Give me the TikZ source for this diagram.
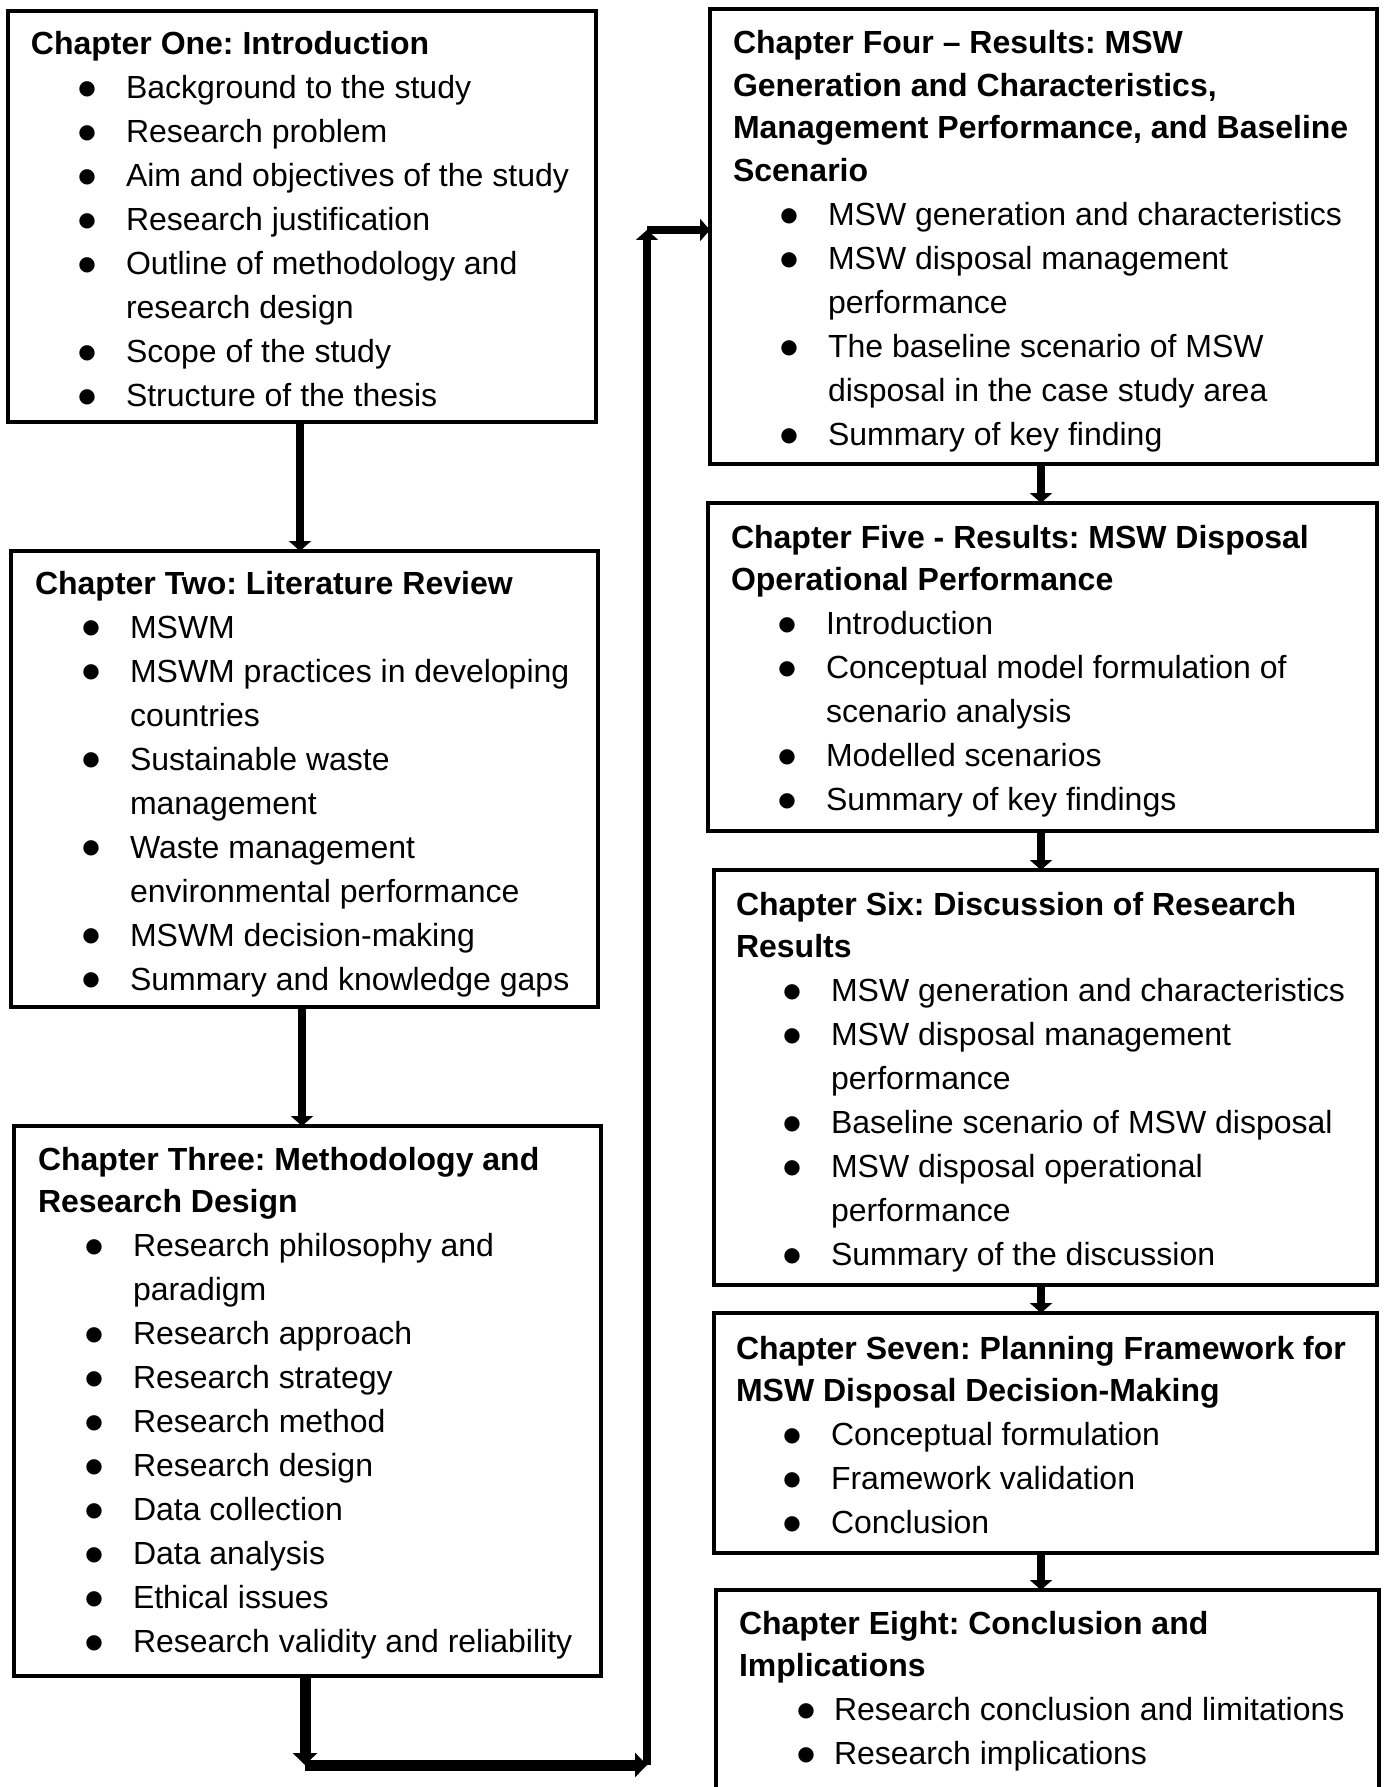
\documentclass[tikz,border=0pt]{standalone}
\usepackage{fontspec}
\setmainfont{Liberation Sans}
\newfontfamily\shapefont{DejaVu Sans}
\usetikzlibrary{arrows.meta}

% round bullet, centred about 4.5pt above the baseline
\newcommand\bigbullet{{\shapefont\fontsize{10}{12}\selectfont\raisebox{2.2pt}{●}}}
% chapter heading, then switch to the spacing of the bullet lines
\newcommand\chhead[1]{\noindent{\bfseries #1}\par\fontsize{16}{22}\selectfont}
% bullet line: optional argument = position of the bullet centre
\newcommand\chitem[2][28pt]{\par\noindent\hangindent=47.5pt\hangafter=1 \makebox[47.5pt][l]{\hspace*{#1}\makebox[0pt]{\bigbullet}}#2}
% text block of one chapter box, baseline at its first line
\newcommand\chtext[1]{\parbox[t]{340pt}{\frenchspacing\fontsize{16}{21.25}\selectfont\lineskiplimit=-20pt\parskip=0pt #1}}

\begin{document}
\begin{tikzpicture}[x=0.5pt,y=-0.5pt,
  chbox/.style={draw=black, line width=2pt, inner sep=0pt, outer sep=0pt, anchor=north west},
  chtxt/.style={anchor=base west, inner sep=0pt, outer sep=0pt},
  link/.style={line width=4pt, -{Triangle[width=11pt,length=5pt]}},
  biglink/.style={line width=5.5pt, -{Triangle[width=12pt,length=6pt]}}]

\useasboundingbox (0,0) rectangle (1384,1787);
\fill[white] (0,0) rectangle (1384,1787);
\clip (0,0) rectangle (1384,1787);

% chapter boxes
\node[chbox, minimum width=294pt,   minimum height=205.5pt] (b1) at (8,11) {};
\node[chbox, minimum width=293.5pt, minimum height=228pt]   (b2) at (11,551) {};
\node[chbox, minimum width=293.5pt, minimum height=275pt]   (b3) at (14,1126) {};
\node[chbox, minimum width=333.5pt, minimum height=227.5pt] (b4) at (710,9) {};
\node[chbox, minimum width=334.5pt, minimum height=164pt]   (b5) at (708,503) {};
\node[chbox, minimum width=331.5pt, minimum height=207.5pt] (b6) at (714,870) {};
\node[chbox, minimum width=331.5pt, minimum height=120pt]   (b7) at (714,1313) {};
\node[chbox, minimum width=331.5pt, minimum height=110pt]   (b8) at (716,1590) {};

% chapter contents
\node[chtxt] (t1) at (31,55) {\chtext{%
  \chhead{Chapter One: Introduction}%
  \chitem{Background to the study}%
  \chitem{Research problem}%
  \chitem{Aim and objectives of the study}%
  \chitem{Research justification}%
  \chitem{Outline of methodology and\newline research design}%
  \chitem{Scope of the study}%
  \chitem{Structure of the thesis}}};

\node[chtxt] (t2) at (35,594) {\chtext{%
  \chhead{Chapter Two: Literature Review}%
  \chitem{MSWM}%
  \chitem{MSWM practices in developing\newline countries}%
  \chitem{Sustainable waste\newline management}%
  \chitem{Waste management\newline environmental performance}%
  \chitem{MSWM decision-making}%
  \chitem{Summary and knowledge gaps}}};

\node[chtxt] (t3) at (38,1170) {\chtext{%
  \chhead{Chapter Three: Methodology and\newline Research Design}%
  \chitem{Research philosophy and\newline paradigm}%
  \chitem{Research approach}%
  \chitem{Research strategy}%
  \chitem{Research method}%
  \chitem{Research design}%
  \chitem{Data collection}%
  \chitem{Data analysis}%
  \chitem{Ethical issues}%
  \chitem{Research validity and reliability}}};

\node[chtxt] (t4) at (733,54) {\chtext{%
  \chhead{Chapter Four – Results: MSW\newline Generation and Characteristics,\newline Management Performance, and Baseline\newline Scenario}%
  \chitem{MSW generation and characteristics}%
  \chitem{MSW disposal management\newline performance}%
  \chitem{The baseline scenario of MSW\newline disposal in the case study area}%
  \chitem{Summary of key finding}}};

\node[chtxt] (t5) at (731,548) {\chtext{%
  \chhead{Chapter Five - Results: MSW Disposal\newline Operational Performance}%
  \chitem{Introduction}%
  \chitem{Conceptual model formulation of\newline scenario analysis}%
  \chitem{Modelled scenarios}%
  \chitem{Summary of key findings}}};

\node[chtxt] (t6) at (736,915) {\chtext{%
  \chhead{Chapter Six: Discussion of Research\newline Results}%
  \chitem{MSW generation and characteristics}%
  \chitem{MSW disposal management\newline performance}%
  \chitem{Baseline scenario of MSW disposal}%
  \chitem{MSW disposal operational\newline performance}%
  \chitem{Summary of the discussion}}};

\node[chtxt] (t7) at (736,1359) {\chtext{%
  \chhead{Chapter Seven: Planning Framework for\newline MSW Disposal Decision-Making}%
  \chitem{Conceptual formulation}%
  \chitem{Framework validation}%
  \chitem{Conclusion}}};

\node[chtxt] (t8) at (739,1634) {\chtext{%
  \chhead{Chapter Eight: Conclusion and\newline Implications}%
  \chitem[33.5pt]{Research conclusion and limitations}%
  \chitem[33.5pt]{Research implications}}};

% connector routing points
\coordinate (l1) at (300,0);
\coordinate (l2) at (302,0);
\coordinate (r1) at (1041,0);
\coordinate (k1) at (305,1765);
\coordinate (k2) at (647,1765);
\coordinate (k3) at (647,230);

% left column
\draw[link] (b1.south -| l1) -- (b2.north -| l1);
\draw[link] (b2.south -| l2) -- (b3.north -| l2);

% long connector from chapter three to chapter four
\draw[biglink] (b3.south -| k1) -- (k1);
\draw[biglink] (k1) -- (k2);
\draw[link] (k2) -- (k3);
\draw[link] (k3) -- (b4.west |- k3);

% right column
\draw[link] (b4.south -| r1) -- (b5.north -| r1);
\draw[link] (b5.south -| r1) -- (b6.north -| r1);
\draw[link] (b6.south -| r1) -- (b7.north -| r1);
\draw[link] (b7.south -| r1) -- (b8.north -| r1);
\end{tikzpicture}
\end{document}
